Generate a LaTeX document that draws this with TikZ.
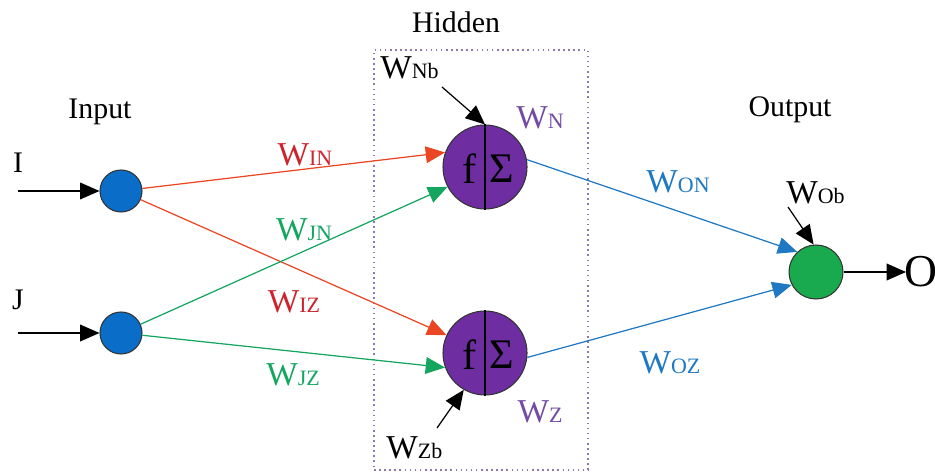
\documentclass[tikz,border=0pt]{standalone}
\usepackage{fontspec}
\setmainfont{Liberation Serif}
\usetikzlibrary{arrows.meta,calc}
\definecolor{inblue}{RGB}{10,110,200}
\definecolor{outgreen}{RGB}{25,170,80}
\definecolor{hidpurple}{RGB}{110,45,160}
\definecolor{lred}{RGB}{235,70,35}
\definecolor{tred}{RGB}{205,35,45}
\definecolor{lgreen}{RGB}{20,165,95}
\definecolor{lblue}{RGB}{30,120,195}
\definecolor{tpurple}{RGB}{115,75,165}
\definecolor{boxc}{RGB}{140,120,175}
\tikzset{
  neuron/.style={circle,draw=black!80,line width=0.6pt,inner sep=0pt},
  inneuron/.style={neuron,fill=inblue,minimum size=42*0.02cm},
  hidneuron/.style={neuron,fill=hidpurple,minimum size=84*0.02cm},
  outneuron/.style={neuron,fill=outgreen,minimum size=54*0.02cm},
  conn/.style={line width=0.7pt,-{Triangle[length=11pt,width=9.5pt]}},
  lab/.style={font=\fontsize{17}{17}\selectfont,inner sep=0pt},
  wlab/.style={font=\fontsize{19}{19}\selectfont,inner sep=0pt},
  sym/.style={font=\fontsize{24}{24}\selectfont,inner sep=0pt}
}
\newcommand{\wsub}[1]{W{\fontsize{12.5}{12.5}\selectfont #1}}
\begin{document}
\begin{tikzpicture}[x=0.02cm,y=-0.02cm]
\useasboundingbox (0,0) rectangle (935,475);
% hidden box
\node[draw=boxc,dotted,line width=0.9pt,minimum width=214*0.02cm,minimum height=420*0.02cm,inner sep=0pt] (box) at (481,260) {};
% titles
\node[lab] (tin) at (100,112) {Input};
\node[lab] (thid) at (456,22) {Hidden};
\node[lab] (tout) at (790,110) {Output};
% nodes
\node[inneuron] (I) at (121,191) {};
\node[inneuron] (J) at (121,333) {};
\node[hidneuron] (N) at (485,167) {};
\node[hidneuron] (Z) at (485,353) {};
\node[outneuron] (O) at (816,272) {};
\draw[line width=0.6pt] (N.north) -- (N.south);
\draw[line width=0.6pt] (Z.north) -- (Z.south);
\node[sym] (Nf) at (470,169) {f};
\node[sym] (Ns) at (502,169) {Σ};
\node[sym] (Zf) at (470,355) {f};
\node[sym] (Zs) at (502,355) {Σ};
% inputs
\node[lab] (lI) at (18,163) {I};
\node[lab] (lJ) at (18,300) {J};
\coordinate (Is) at (18,191);
\coordinate (Js) at (18,333);
\draw[conn,black] (Is) -- (I);
\draw[conn,black] (Js) -- (J);
% output
\coordinate (Oe) at (906,272);
\draw[conn,black] (O) -- (Oe);
\node[font=\fontsize{26}{26}\selectfont,inner sep=0pt,anchor=west] (lO) at (904,272) {O};
% connections
\draw[conn,lred] (I) -- (N.160);
\draw[conn,lred] (I) -- (Z.155);
\draw[conn,lgreen] (J) -- (N.208);
\draw[conn,lgreen] (J) -- (Z.200);
\draw[conn,lblue] (N.10) -- (O.133);
\draw[conn,lblue] (Z.-6) -- (O.208);
% bias arrows
\node[wlab,anchor=west] (bN) at (380,68) {\wsub{Nb}};
\coordinate (bNs) at (442,87);
\draw[conn,black] (bNs) -- (N.north);
\node[wlab,anchor=west] (bZ) at (386,448) {\wsub{Zb}};
\coordinate (bZs) at (437,428);
\draw[conn,black] (bZs) -- (Z.240);
\node[wlab,anchor=west] (bO) at (786,193) {\wsub{Ob}};
\coordinate (bOs) at (788,207);
\draw[conn,black] (bOs) -- (O.95);
% weight labels
\node[wlab,text=tred] (wIN) at (305,155) {\wsub{IN}};
\node[wlab,text=lgreen] (wJN) at (304,230) {\wsub{JN}};
\node[wlab,text=tred] (wIZ) at (294,302) {\wsub{IZ}};
\node[wlab,text=lgreen] (wJZ) at (293,375) {\wsub{JZ}};
\node[wlab,text=lblue] (wON) at (678,182) {\wsub{ON}};
\node[wlab,text=lblue] (wOZ) at (670,363) {\wsub{OZ}};
\node[wlab,text=tpurple] (wN) at (540,118) {\wsub{N}};
\node[wlab,text=tpurple] (wZ) at (540,412) {\wsub{Z}};
\end{tikzpicture}
\end{document}
